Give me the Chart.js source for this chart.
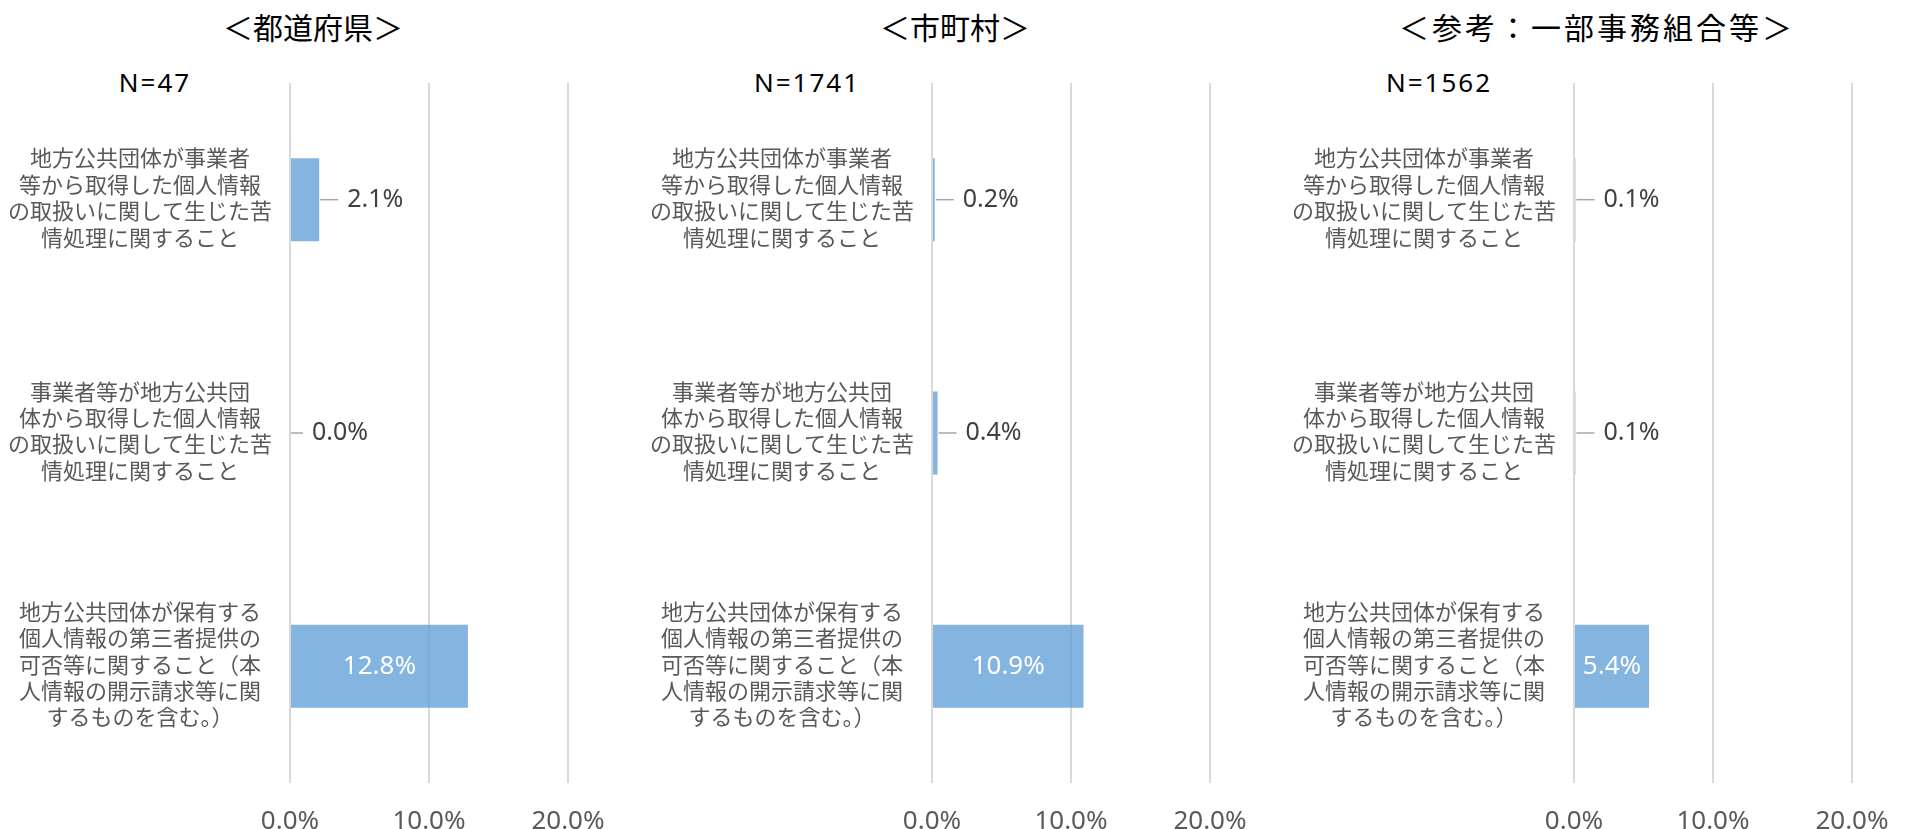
<!DOCTYPE html>
<html>
<head>
<meta charset="utf-8">
<script src="https://cdn.jsdelivr.net/npm/chart.js@4/dist/chart.umd.min.js"></script>
<style>
  html, body { margin: 0; padding: 0; background: #ffffff; }
  body { width: 1906px; height: 829px; position: relative; overflow: hidden; }
  .panel { position: absolute; top: 0; }
  .title { position: absolute; top: 6px; transform: translateX(-50%); white-space: nowrap;
           font-family: 'Noto Sans CJK JP', 'Noto Sans', sans-serif; font-size: 30px; line-height: 40px; color: #000; }
  .nlabel { position: absolute; top: 64px; transform: translateX(-50%); white-space: nowrap; letter-spacing: 2px;
            font-family: 'Noto Sans', 'Noto Sans CJK JP', sans-serif; font-size: 26px; line-height: 36px; color: #000; }
</style>
</head>
<body>
<script>
// ---- data ----
const categories = [
  ['地方公共団体が事業者', '等から取得した個人情報', 'の取扱いに関して生じた苦', '情処理に関すること'],
  ['事業者等が地方公共団', '体から取得した個人情報', 'の取扱いに関して生じた苦', '情処理に関すること'],
  ['地方公共団体が保有する', '個人情報の第三者提供の', '可否等に関すること（本', '人情報の開示請求等に関', 'するものを含む。）']
];
const panelTitles = ['＜都道府県＞', '＜市町村＞', '＜参考：一部事務組合等＞'];
const panelN = ['N=47', 'N=1741', 'N=1562'];
const prefValues = [2.1, 0.0, 12.8];
const muniValues = [0.2, 0.4, 10.9];
const unionValues = [0.1, 0.1, 5.4];
const xTickValues = [0, 10, 20];

// ---- layout (positions/styles only) ----
const panels = [
  { values: prefValues,  left: 0,    titleX: 313,  titleLS: 0, nX: 155 },
  { values: muniValues,  left: 642,  titleX: 955,  titleLS: 0, nX: 807 },
  { values: unionValues, left: 1284, titleX: 1597, titleLS: 3, nX: 1439 }
];
const CANVAS_W = 608;
const FONT = "'Noto Sans', 'Noto Sans CJK JP', sans-serif";

const barLabelPlugin = {
  id: 'barLabels',
  afterDatasetsDraw(chart) {
    const ctx = chart.ctx;
    const meta = chart.getDatasetMeta(0);
    const data = chart.data.datasets[0].data;
    ctx.save();
    ctx.textBaseline = 'middle';
    meta.data.forEach((bar, i) => {
      const v = data[i];
      const txt = v.toFixed(1) + '%';
      const base = bar.base;
      if (v >= 5) {
        ctx.fillStyle = '#ffffff';
        ctx.textAlign = 'center';
        ctx.font = '26px ' + FONT;
        ctx.fillText(txt, (base + bar.x) / 2, bar.y);
      } else {
        const gap = v === 0 ? 22 : 28;
        ctx.strokeStyle = '#a6a6a6';
        ctx.lineWidth = 1.5;
        ctx.beginPath();
        ctx.moveTo(bar.x + 1, bar.y);
        ctx.lineTo(bar.x + gap - 9, bar.y);
        ctx.stroke();
        ctx.fillStyle = '#404040';
        ctx.textAlign = 'left';
        ctx.font = '25px ' + FONT;
        ctx.fillText(txt, bar.x + gap, bar.y);
      }
    });
    ctx.restore();
  }
};

panels.forEach((p, k) => {
  const t = document.createElement('div');
  t.className = 'title'; t.style.left = p.titleX + 'px'; t.style.letterSpacing = p.titleLS + 'px';
  t.textContent = panelTitles[k];
  document.body.appendChild(t);
  const n = document.createElement('div');
  n.className = 'nlabel'; n.style.left = p.nX + 'px'; n.textContent = panelN[k];
  document.body.appendChild(n);

  const wrap = document.createElement('div');
  wrap.className = 'panel';
  wrap.style.left = p.left + 'px';
  wrap.style.width = CANVAS_W + 'px';
  wrap.style.height = '829px';
  const cv = document.createElement('canvas');
  cv.width = CANVAS_W; cv.height = 829;
  cv.style.width = CANVAS_W + 'px'; cv.style.height = '829px';
  wrap.appendChild(cv);
  document.body.appendChild(wrap);

  new Chart(cv, {
    type: 'bar',
    data: {
      labels: categories,
      datasets: [{
        data: p.values,
        backgroundColor: 'rgba(91,155,213,0.75)',
        borderWidth: 0,
        barPercentage: 1,
        categoryPercentage: 0.356
      }]
    },
    options: {
      indexAxis: 'y',
      responsive: false,
      animation: false,
      devicePixelRatio: 1,
      layout: { padding: { top: 83, right: 40, bottom: 0, left: 0 } },
      plugins: { legend: { display: false }, tooltip: { enabled: false }, title: { display: false } },
      scales: {
        x: {
          min: 0, max: 20,
          afterBuildTicks(scale) { scale.ticks = xTickValues.map(v => ({ value: v })); },
          afterFit(scale) { scale.height = 46; scale.paddingLeft = 0; scale.paddingRight = 0; },
          grid: { color: '#d9d9d9', lineWidth: 2, drawTicks: false },
          border: { display: false },
          ticks: {
            padding: 23,
            color: '#595959',
            font: { family: FONT, size: 26 },
            callback: v => Number(v).toFixed(1) + '%'
          }
        },
        y: {
          afterFit(scale) { scale.width = 290; scale.paddingTop = 0; scale.paddingBottom = 0; },
          grid: { display: false, drawTicks: false },
          border: { display: false },
          ticks: {
            padding: 18,
            crossAlign: 'center',
            color: '#595959',
            font: { family: FONT, size: 22, lineHeight: 1.2 }
          }
        }
      }
    },
    plugins: [barLabelPlugin]
  });
});
</script>
</body>
</html>
